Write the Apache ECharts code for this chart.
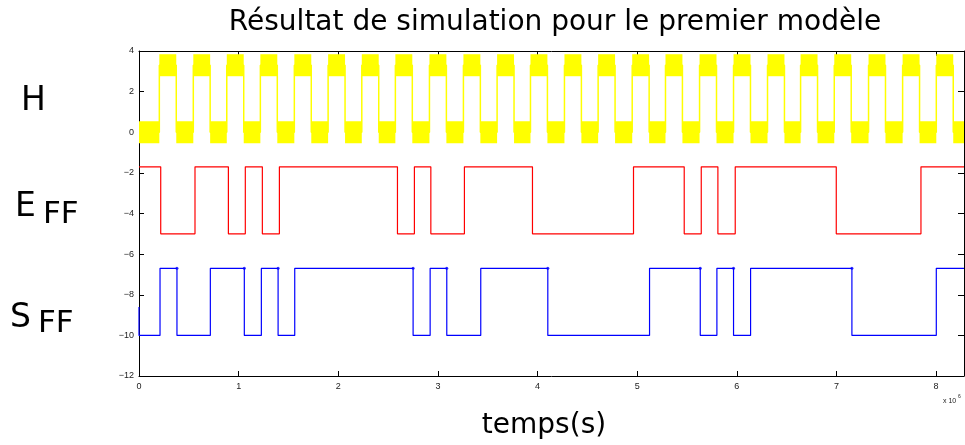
<!DOCTYPE html>
<html lang="fr">
<head>
<meta charset="UTF-8">
<title>Simulation</title>
<script src="https://cdn.jsdelivr.net/npm/echarts@6/dist/echarts.min.js"></script>
<style>
  html, body { margin: 0; padding: 0; background: #fff; }
  #main { width: 965px; height: 445px; }
</style>
</head>
<body>
<div id="main"></div>
<script>
// axes
var xMax = 8.28;

// niveaux bas / haut des trois signaux
var levelsH = [0, 3.3];
var levelsE = [-5, -1.7];
var levelsS = [-10, -6.7];

// horloge H (x 10^6 s)
var hRise = [0.204, 0.545, 0.881, 1.218, 1.559, 1.898, 2.236, 2.573, 2.915, 3.256, 3.594, 3.929,
             4.270, 4.608, 4.950, 5.284, 5.626, 5.967, 6.308, 6.640, 6.978, 7.322, 7.664, 8.002];
var hFall = [0.374, 0.714, 1.051, 1.388, 1.729, 2.068, 2.406, 2.743, 3.085, 3.426, 3.764, 4.099,
             4.440, 4.778, 5.120, 5.454, 5.796, 6.137, 6.478, 6.810, 7.148, 7.492, 7.834, 8.172];

// entree E_FF (commence haut)
var eEdges = [0.218, 0.562, 0.897, 1.067, 1.238, 1.409, 2.594, 2.764, 2.929, 3.266, 3.949,
              4.963, 5.472, 5.643, 5.810, 5.984, 6.998, 7.848];

// sortie S_FF (valeur initiale puis bas)
var sInit = -8.6;
var sEdges = [0.211, 0.381, 0.716, 1.057, 1.228, 1.396, 1.563, 2.751, 2.922, 3.089, 3.430,
              4.103, 5.124, 5.633, 5.800, 5.967, 6.138, 7.155, 8.002];

function stepLine(edges, levels, startState) {
    var st = startState;
    var pts = [[0, levels[st]]];
    edges.forEach(function (t) {
        pts.push([t, levels[st]]);
        st = 1 - st;
        pts.push([t, levels[st]]);
    });
    pts.push([xMax, levels[st]]);
    return pts;
}

// plateaux de l'horloge : [debut, fin, niveau]
function plateaus(edges, levels, startState) {
    var st = startState, prev = 0, out = [];
    edges.concat([xMax]).forEach(function (t) {
        out.push([prev, t, levels[st]]);
        st = 1 - st;
        prev = t;
    });
    return out;
}

var hEdges = hRise.concat(hFall).sort(function (a, b) { return a - b; });
var hData = stepLine(hEdges, levelsH, 0);
var hBlocks = plateaus(hEdges, levelsH, 0);
var eData = stepLine(eEdges, levelsE, 1);
var sData = [[0, sInit]].concat(stepLine(sEdges, levelsS, 0));
// petits points aux fronts descendants de S
var sDots = [];
sEdges.forEach(function (t, i) { if (i % 2 === 1) sDots.push([t, levelsS[1]]); });

function fmt(v) { return v < 0 ? '\u2212' + Math.abs(v) : '' + v; }

var tickFont = { fontFamily: 'Liberation Sans', fontSize: 9, color: '#222' };
var axLine = { show: true, onZero: false, lineStyle: { color: '#000', width: 1 } };

var chart = echarts.init(document.getElementById('main'));
chart.setOption({
    animation: false,
    backgroundColor: '#fff',
    grid: { left: 139, right: 1, top: 51, bottom: 69 },
    xAxis: [{
        type: 'value', min: 0, max: xMax, interval: 1,
        axisLine: axLine,
        axisTick: { inside: true, length: 5, lineStyle: { color: '#000' } },
        axisLabel: Object.assign({ margin: 6, showMaxLabel: false }, tickFont),
        splitLine: { show: false }
    }, {
        type: 'value', position: 'top', min: 0, max: xMax, interval: 1,
        axisLine: axLine,
        axisTick: { inside: true, length: 5, lineStyle: { color: '#000' } },
        axisLabel: { show: false },
        splitLine: { show: false }
    }],
    yAxis: [{
        type: 'value', min: -12, max: 4, interval: 2,
        axisLine: axLine,
        axisTick: { inside: true, length: 5, lineStyle: { color: '#000' } },
        axisLabel: Object.assign({ margin: 5, formatter: fmt }, tickFont),
        splitLine: { show: false }
    }, {
        type: 'value', position: 'right', min: -12, max: 4, interval: 2,
        axisLine: axLine,
        axisTick: { inside: true, length: 6, lineStyle: { color: '#000' } },
        axisLabel: { show: false },
        splitLine: { show: false }
    }],
    series: [{
        name: 'H blocs', type: 'custom', data: hBlocks,
        encode: { x: [0, 1], y: 2 },
        renderItem: function (params, api) {
            var a = api.coord([api.value(0), api.value(2)]);
            var b = api.coord([api.value(1), api.value(2)]);
            return {
                type: 'rect',
                shape: { x: a[0], y: a[1] - 11, width: b[0] - a[0], height: 22 },
                style: { fill: '#ffff00' }
            };
        }
    }, {
        name: 'H', type: 'line', data: hData, symbol: 'none',
        lineStyle: { color: '#ffff00', width: 1.5 }
    }, {
        name: 'E_FF', type: 'line', data: eData, symbol: 'none',
        lineStyle: { color: '#ff0000', width: 1.2 }
    }, {
        name: 'S_FF', type: 'line', data: sData, symbol: 'none',
        lineStyle: { color: '#0000ff', width: 1.2 }
    }, {
        name: 'S points', type: 'scatter', data: sDots, symbolSize: 3,
        itemStyle: { color: '#0000ff' }
    }],
    graphic: [
        { type: 'text', x: 555, y: 9, style: { text: 'R\u00e9sultat de simulation pour le premier mod\u00e8le', font: '28px "DejaVu Sans"', fill: '#000', textAlign: 'center' } },
        { type: 'text', x: 544, y: 412, style: { text: 'temps(s)', font: '28px "DejaVu Sans"', fill: '#000', textAlign: 'center' } },
        { type: 'text', x: 943, y: 398, style: { text: 'x 10', font: '7px "Liberation Sans"', fill: '#222' } },
        { type: 'text', x: 958, y: 394, style: { text: '6', font: '5px "Liberation Sans"', fill: '#222' } },
        { type: 'text', x: 21, y: 85, style: { text: 'H', font: '33px "DejaVu Sans"', fill: '#000' } },
        { type: 'text', x: 15, y: 191, style: { text: 'E', font: '33px "DejaVu Sans"', fill: '#000' } },
        { type: 'text', x: 43, y: 199, style: { text: 'FF', font: '31px "DejaVu Sans"', fill: '#000' } },
        { type: 'text', x: 10, y: 302, style: { text: 'S', font: '33px "DejaVu Sans"', fill: '#000' } },
        { type: 'text', x: 38, y: 308, style: { text: 'FF', font: '31px "DejaVu Sans"', fill: '#000' } }
    ]
});
</script>
</body>
</html>
